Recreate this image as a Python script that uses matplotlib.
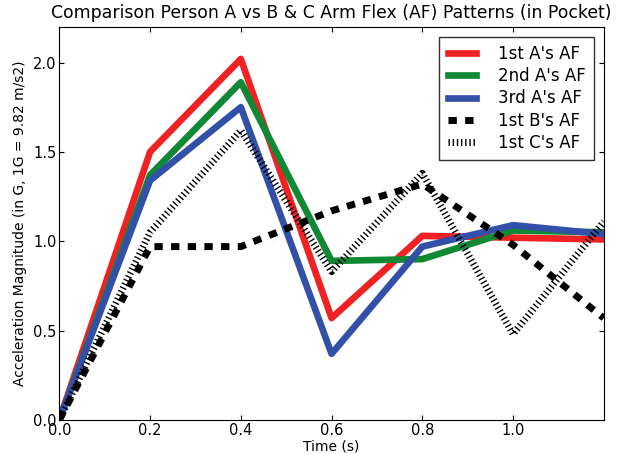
import matplotlib
matplotlib.use("Agg")
from matplotlib import pyplot as plt

plt.rcParams['lines.scale_dashes'] = False

time = [0.0, 0.2, 0.4, 0.6, 0.8, 1.0, 1.2]
a1 = [0.0, 1.50, 2.02, 0.57, 1.03, 1.02, 1.01]
a2 = [0.0, 1.37, 1.89, 0.89, 0.90, 1.06, 1.05]
a3 = [0.0, 1.34, 1.75, 0.37, 0.97, 1.09, 1.04]
b1 = [0.0, 0.97, 0.97, 1.17, 1.32, 0.98, 0.57]
c1 = [0.0, 1.05, 1.62, 0.83, 1.38, 0.48, 1.11]

fig = plt.figure(figsize=(6.18, 4.54), dpi=100)
ax = fig.add_axes([0.096, 0.075, 0.881, 0.866])

ax.plot(time, a1, color='#ee2222', lw=4.8, label="1st A's AF")
ax.plot(time, a2, color='#118833', lw=4.8, label="2nd A's AF")
ax.plot(time, a3, color='#3350a8', lw=4.8, label="3rd A's AF")
ax.plot(time, b1, color='black', lw=5, linestyle=(0, (6, 6)), label="1st B's AF")
ax.plot(time, c1, color='black', lw=5, linestyle=(0, (1, 2)), label="1st C's AF")

ax.set_xlim(0, 1.2)
ax.set_ylim(0, 2.2)
ax.set_xticks([0.0, 0.2, 0.4, 0.6, 0.8, 1.0])
ax.set_yticks([0.0, 0.5, 1.0, 1.5, 2.0])
ax.tick_params(direction='in', top=True, right=True, labelsize=10.5, pad=2)

ax.set_xlabel('Time (s)', fontsize=10, labelpad=1)
ax.set_ylabel('Acceleration Magnitude (in G, 1G = 9.82 m/s2)', fontsize=10)
ax.set_title('Comparison Person A vs B & C Arm Flex (AF) Patterns (in Pocket)', fontsize=12.4)
leg = ax.legend(loc='upper right', fontsize=12, fancybox=False, handlelength=1.7,
                handletextpad=1.3, labelspacing=0.25, borderpad=0.5,
                borderaxespad=0.6)
leg.get_frame().set_edgecolor('black')

fig.savefig('out.png', dpi=100)
